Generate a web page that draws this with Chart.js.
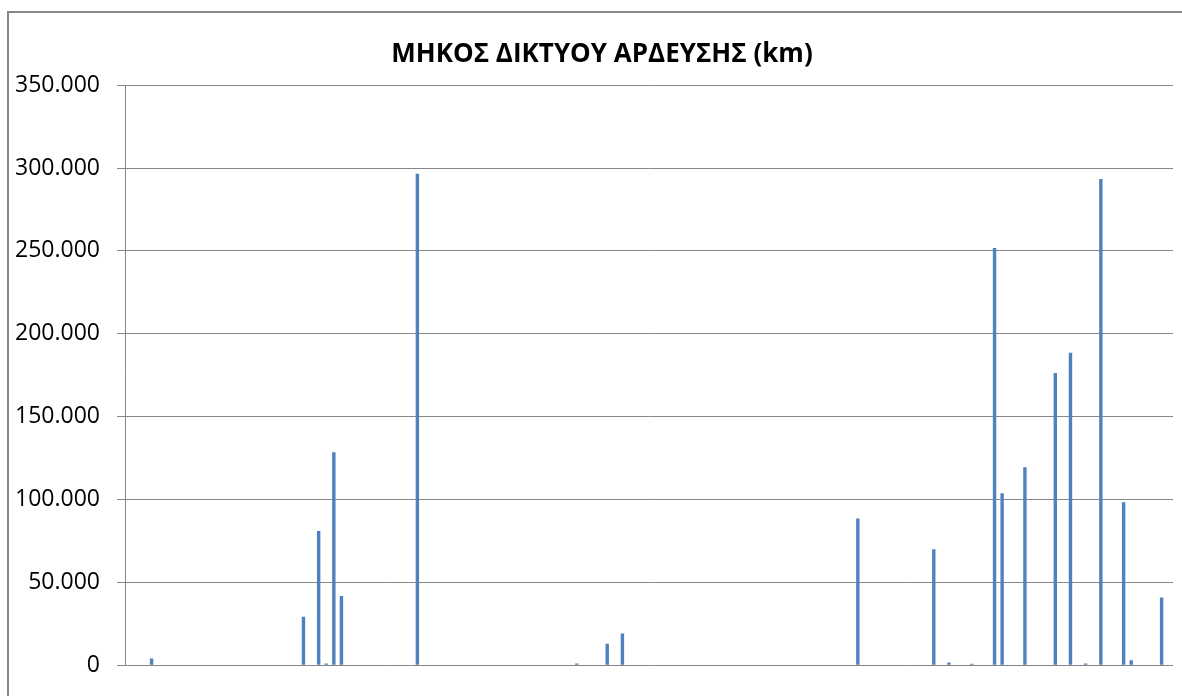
<!DOCTYPE html>
<html>
<head>
<meta charset="utf-8">
<title>ΜΗΚΟΣ ΔΙΚΤΥΟΥ ΑΡΔΕΥΣΗΣ</title>
<script src="https://cdn.jsdelivr.net/npm/chart.js@4.4.1/dist/chart.umd.min.js"></script>
<style>
  html, body { margin: 0; padding: 0; background: #fff; overflow: hidden; }
  #wrap { position: relative; width: 1182px; height: 696px; }
  #frame {
    position: absolute; left: 7px; top: 11px; width: 1400px; height: 900px;
    border-left: 2px solid #878787; border-top: 2px solid #878787;
  }
  #chartBox { position: absolute; left: 0; top: 0; width: 1182px; height: 696px; }
</style>
</head>
<body>
<div id="wrap">
  <div id="frame"></div>
  <div id="chartBox"><canvas id="chartArdeusi"></canvas></div>
</div>
<script>
// values, one per category (138 categories)
const categories = Array.from({ length: 138 }, (_, i) => String(i + 1));
const lengths = [
  0, 0, 0, 4000, 0, 0, 0, 0, 0, 0,
  0, 0, 0, 0, 0, 0, 0, 0, 0, 0,
  0, 0, 0, 29300, 0, 81000, 1000, 128500, 41700, 0,
  0, 0, 0, 0, 0, 0, 0, 0, 296600, 0,
  0, 0, 0, 0, 0, 0, 0, 0, 0, 0,
  0, 0, 0, 0, 0, 0, 0, 0, 0, 1000,
  0, 0, 0, 13000, 0, 19200, 0, 0, 0, 0,
  0, 0, 0, 0, 0, 0, 0, 0, 0, 0,
  0, 0, 0, 0, 0, 0, 0, 0, 0, 0,
  0, 0, 0, 0, 0, 0, 88600, 0, 0, 0,
  0, 0, 0, 0, 0, 0, 69900, 0, 1600, 0,
  0, 800, 0, 0, 251800, 103800, 0, 0, 119500, 0,
  0, 0, 176400, 0, 188600, 0, 1000, 0, 293400, 0,
  0, 98400, 3000, 0, 0, 0, 40900, 0
];
const yTicks = [0, 50000, 100000, 150000, 200000, 250000, 300000, 350000];

// greek style grouping: 350000 -> 350.000
function fmt(n) {
  return String(n).replace(/\B(?=(\d{3})+(?!\d))/g, '.');
}

// the title in the original sits a bit right of the canvas centre
const shiftTitle = {
  id: "shiftTitle",
  afterLayout(chart) {
    if (chart.titleBlock) chart.titleBlock.left = 31;
  }
};

new Chart(document.getElementById("chartArdeusi"), {
  type: "bar",
  data: {
    labels: categories,
    datasets: [{
      label: "Μήκος δικτύου",
      data: lengths,
      backgroundColor: "#4f81bd",
      borderWidth: 0,
      categoryPercentage: 1,
      barPercentage: 0.45
    }]
  },
  options: {
    responsive: true,
    maintainAspectRatio: false,
    animation: false,
    layout: { padding: { left: 0, right: 9, top: 0, bottom: 29 } },
    plugins: {
      legend: { display: false },
      tooltip: { enabled: false },
      title: {
        display: true,
        text: "ΜΗΚΟΣ ΔΙΚΤΥΟΥ ΑΡΔΕΥΣΗΣ (km)",
        color: "#000",
        font: { family: "'Open Sans'", size: 26, weight: "bold", lineHeight: 1.2 },
        padding: { top: 39, bottom: 15 }
      }
    },
    scales: {
      x: { display: false },
      y: {
        min: 0,
        max: 350000,
        afterBuildTicks: axis => { axis.ticks = yTicks.map(v => ({ value: v })); },
        afterFit: axis => { axis.width = 125; },
        border: { display: true, color: "#878787", width: 1 },
        grid: { color: "#878787", lineWidth: 1, drawTicks: true, tickLength: 8, tickColor: "#878787" },
        ticks: {
          color: "#000",
          padding: 17,
          font: { family: "'Open Sans'", size: 23 },
          callback: v => fmt(v)
        }
      }
    }
  },
  plugins: [shiftTitle]
});
</script>
</body>
</html>
